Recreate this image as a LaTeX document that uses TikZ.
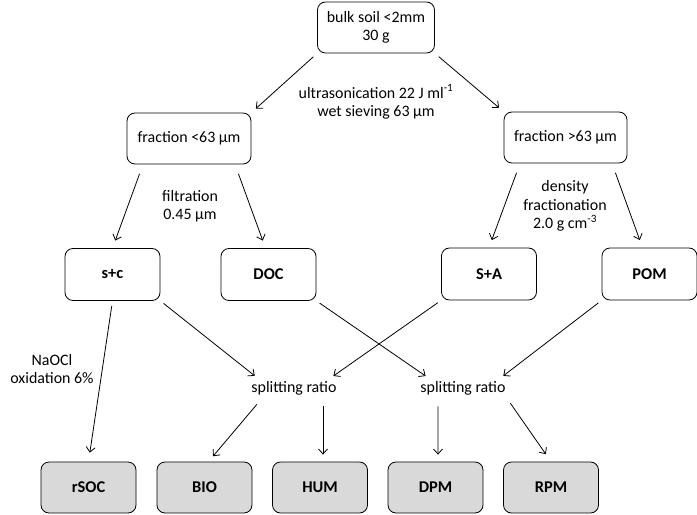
\documentclass[tikz,border=0pt]{standalone}
\usepackage{fontspec}
\setmainfont{Carlito}
\usetikzlibrary{arrows.meta,calc}

\begin{document}
\begin{tikzpicture}[x=1bp,y=-1bp,line width=0.8bp,
  font=\fontsize{16}{18.5}\selectfont,
  box/.style={draw, rounded corners=8bp, minimum width=95bp, minimum height=52bp, align=center},
  frac/.style={box, font=\fontsize{16.5}{18.5}\selectfont\bfseries},
  pool/.style={frac, fill=black!15, minimum height=51bp},
  conn/.style={-{Straight Barb[length=5bp,width=9bp]}},
  step note/.style={align=center, inner sep=3bp}]
 \useasboundingbox (0,0) rectangle (697,515);
 % sample and size fractions
 \node [box, minimum width=117bp, minimum height=51bp] (bulk) at (376,27.5) {bulk soil <2mm\\30 g};
 \node [box, minimum width=124bp, minimum height=51bp] (fine) at (189,138.5) {fraction <63 µm};
 \node [box, minimum width=123bp, minimum height=51bp] (coarse) at (565.5,137.5) {fraction >63 µm};
 \node [step note] (sonic) at (376,102) {ultrasonication 22 J ml\textsuperscript{-1}\\wet sieving 63 µm};
 \draw [conn, shorten <=5bp, shorten >=6bp] (bulk.south west) -- (fine.north east);
 \draw [conn, shorten <=5bp, shorten >=6bp] (bulk.south east) -- (coarse.north west);
 % measured fractions
 \node [frac] (sc) at (112.5,274.5) {s+c};
 \node [frac] (doc) at (268.5,274.5) {DOC};
 \node [frac] (sa) at (489,274) {S+A};
 \node [frac] (pom) at (649.5,274) {POM};
 \node [step note] (filt) at (190,206) {filtration\\0.45 µm};
 \node [step note] (dens) at (565,206) {density\\fractionation\\2.0 g cm\textsuperscript{-3}};
 \draw [conn, shorten <=10bp, shorten >=8bp] ($(fine.south)+(-46,0)$) -- (sc.north);
 \draw [conn, shorten <=10bp, shorten >=8bp] ($(fine.south)+(46,0)$) -- ($(doc.north)+(-3,0)$);
 \draw [conn, shorten <=10bp, shorten >=8bp] ($(coarse.south)+(-45.5,0)$) -- (sa.north);
 \draw [conn, shorten <=10bp, shorten >=8bp] ($(coarse.south)+(46.5,0)$) -- ($(pom.north)+(-7,0)$);
 % model pools
 \node [step note] (split1) at (294,388) {splitting ratio};
 \node [step note] (split2) at (463,388) {splitting ratio};
 \node [step note] (naocl) at (52,369) {NaOCl\\oxidation 6\%};
 \node [pool] (rsoc) at (88.5,487.5) {rSOC};
 \node [pool] (bio) at (204.5,487.5) {BIO};
 \node [pool] (hum) at (320,487.5) {HUM};
 \node [pool] (dpm) at (435.5,487.5) {DPM};
 \node [pool] (rpm) at (551,487.5) {RPM};
 \draw [conn, shorten <=5bp, shorten >=9bp] (sc.south) -- (rsoc.north);
 \draw [conn, shorten <=4bp, shorten >=3bp] (sc.south east) -- ($(split1.north west)+(9,0)$);
 \draw [conn, shorten <=4bp, shorten >=3bp] (sa.south west) -- ($(split1.north east)+(-9,0)$);
 \draw [conn, shorten <=4bp, shorten >=3bp] (doc.south east) -- ($(split2.north west)+(11,0)$);
 \draw [conn, shorten <=4bp, shorten >=3bp] (pom.south west) -- ($(split2.north east)+(-8,0)$);
 \draw [conn, shorten <=8bp, shorten >=7bp] ($(split1.south)+(-32,0)$) -- ($(bio.north)+(4,0)$);
 \draw [conn, shorten <=8bp, shorten >=7bp] ($(split1.south)+(29,0)$) -- ($(hum.north)+(3,0)$);
 \draw [conn, shorten <=8bp, shorten >=7bp] ($(split2.south)+(-25,0)$) -- ($(dpm.north)+(2.5,0)$);
 \draw [conn, shorten <=6bp, shorten >=9bp] ($(split2.south east)+(-2,0)$) -- (rpm.north);
\end{tikzpicture}
\end{document}
